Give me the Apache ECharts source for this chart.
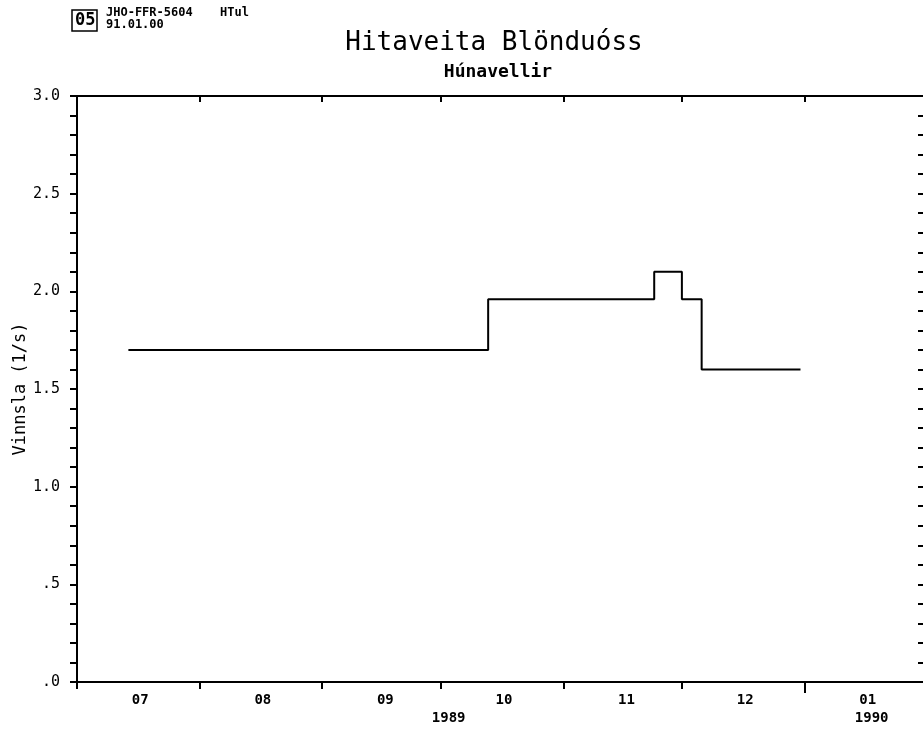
<!DOCTYPE html>
<html>
<head>
<meta charset="utf-8">
<script src="https://cdn.jsdelivr.net/npm/echarts@6/dist/echarts.min.js"></script>
<style>
  html, body { margin: 0; padding: 0; background: #fff; }
  #chart { width: 923px; height: 733px; }
</style>
</head>
<body>
<div id="chart"></div>
<script>
// step levels (l/s), each value holds from its date until the next date
const stepDates = ["1989-07-14", "1989-10-13", "1989-11-24", "1989-12-01", "1989-12-06", "1989-12-31"];
const stepValues = [1.70, 1.96, 2.10, 1.96, 1.60, 1.60];

// month boundaries (ticks) and month label positions
const monthTicks = ["1989-07-01", "1989-08-01", "1989-09-01", "1989-10-01", "1989-11-01", "1989-12-01", "1990-01-01"];
const monthLabelDates = ["1989-07-17", "1989-08-17", "1989-09-17", "1989-10-17", "1989-11-17", "1989-12-17", "1990-01-17"];
const monthLabels = ["07", "08", "09", "10", "11", "12", "01"];
const yearLabelDates = ["1989-10-03", "1990-01-18"];
const yearLabels = ["1989", "1990"];
const yearTicks = ["1990-01-01"];

const FONT = "DejaVu Sans Mono";

// dates as day numbers (UTC), used on a plain value axis
function ts(s) {
  const p = s.split("-").map(Number);
  return Date.UTC(p[0], p[1] - 1, p[2]) / 86400e3;
}

const xMin = ts("1989-07-01");
const xMax = ts("1990-02-01");

function monthText(v) {
  const i = monthLabelDates.findIndex((d) => Math.abs(ts(d) - v) < 0.01);
  return i >= 0 ? monthLabels[i] : "";
}

function yearText(v) {
  const i = yearLabelDates.findIndex((d) => Math.abs(ts(d) - v) < 0.01);
  return i >= 0 ? yearLabels[i] : "";
}

function yText(v) {
  const t = Math.round(v * 10);
  if (t % 5 !== 0) return "";
  const s = (t / 10).toFixed(1);
  return s.startsWith("0") ? s.slice(1) : s;
}

const axisLine = { show: true, lineStyle: { color: "#000", width: 2 } };

const chart = echarts.init(document.getElementById("chart"));

chart.setOption({
  backgroundColor: "#fff",
  animation: false,
  grid: { left: 77, right: -4, top: 96, bottom: 51, outerBoundsMode: "none" },
  graphic: [
    {
      type: "rect",
      shape: { x: 72, y: 10, width: 25, height: 21 },
      style: { fill: "none", stroke: "#000", lineWidth: 1.5 },
    },
    {
      type: "text",
      left: 75,
      top: 12,
      style: { text: "05", font: "bold 17px " + FONT, fill: "#000" },
    },
    {
      type: "text",
      left: 106,
      top: 7,
      style: { text: "JHO-FFR-5604", font: "bold 12px " + FONT, fill: "#000" },
    },
    {
      type: "text",
      left: 220,
      top: 7,
      style: { text: "HTul", font: "bold 12px " + FONT, fill: "#000" },
    },
    {
      type: "text",
      left: 106,
      top: 19,
      style: { text: "91.01.00", font: "bold 12px " + FONT, fill: "#000" },
    },
    {
      type: "text",
      x: 494,
      y: 43,
      style: {
        text: "Hitaveita Blönduóss",
        font: "26px " + FONT,
        fill: "#000",
        align: "center",
        verticalAlign: "middle",
      },
    },
    {
      type: "text",
      x: 498,
      y: 72,
      style: {
        text: "Húnavellir",
        font: "bold 18px " + FONT,
        fill: "#000",
        align: "center",
        verticalAlign: "middle",
      },
    },
  ],
  xAxis: [
    {
      type: "value",
      position: "bottom",
      min: xMin,
      max: xMax,
      axisLine: axisLine,
      splitLine: { show: false },
      axisTick: {
        show: true,
        inside: false,
        length: 7,
        lineStyle: { color: "#000", width: 2 },
        customValues: monthTicks.map(ts),
      },
      axisLabel: {
        show: true,
        margin: 11,
        color: "#000",
        fontFamily: FONT,
        fontWeight: "bold",
        fontSize: 14,
        customValues: monthLabelDates.map(ts),
        formatter: monthText,
      },
    },
    {
      type: "value",
      position: "bottom",
      min: xMin,
      max: xMax,
      axisLine: { show: false },
      splitLine: { show: false },
      axisTick: {
        show: true,
        inside: false,
        length: 11,
        lineStyle: { color: "#000", width: 2 },
        customValues: yearTicks.map(ts),
      },
      axisLabel: {
        show: true,
        margin: 29,
        color: "#000",
        fontFamily: FONT,
        fontWeight: "bold",
        fontSize: 14,
        customValues: yearLabelDates.map(ts),
        formatter: yearText,
      },
    },
    {
      type: "value",
      position: "top",
      min: xMin,
      max: xMax,
      axisLine: axisLine,
      splitLine: { show: false },
      axisTick: {
        show: true,
        inside: true,
        length: 6,
        lineStyle: { color: "#000", width: 2 },
        customValues: monthTicks.map(ts),
      },
      axisLabel: { show: false },
    },
  ],
  yAxis: [
    {
      type: "value",
      position: "left",
      min: 0,
      max: 3,
      interval: 0.1,
      name: "Vinnsla (1/s)",
      nameLocation: "middle",
      nameGap: 48,
      nameMoveOverlap: false,
      nameTextStyle: { color: "#000", fontFamily: FONT, fontSize: 17 },
      axisLine: axisLine,
      splitLine: { show: false },
      axisTick: { show: true, inside: false, length: 7, lineStyle: { color: "#000", width: 2 } },
      axisLabel: {
        margin: 17,
        color: "#000",
        fontFamily: FONT,
        fontSize: 15,
        formatter: yText,
      },
    },
    {
      type: "value",
      position: "right",
      min: 0,
      max: 3,
      interval: 0.1,
      axisLine: { show: false },
      splitLine: { show: false },
      axisTick: { show: true, inside: true, length: 9, lineStyle: { color: "#000", width: 2 } },
      axisLabel: { show: false },
    },
  ],
  series: [
    {
      type: "line",
      step: "end",
      xAxisIndex: 0,
      yAxisIndex: 0,
      symbol: "none",
      lineStyle: { color: "#000", width: 2 },
      data: stepDates.map((d, i) => [ts(d), stepValues[i]]),
    },
  ],
});
</script>
</body>
</html>
